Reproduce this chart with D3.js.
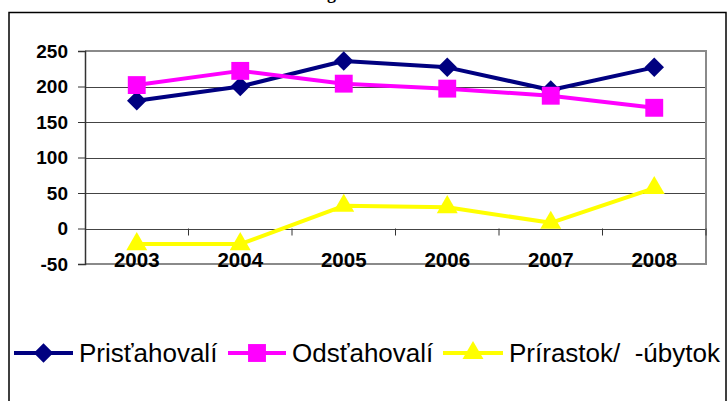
<!DOCTYPE html>
<html>
<head>
<meta charset="utf-8">
<script src="https://cdn.jsdelivr.net/npm/d3@7"></script>
<style>
  body { margin: 0; background: #fff; }
  svg { display: block; }
</style>
</head>
<body>
<svg id="chart" width="727" height="401"></svg>
<script>
var years = ['2003', '2004', '2005', '2006', '2007', '2008'];
var prist = [180, 200, 236, 227, 195, 227];
var odst = [202, 222, 204, 197, 187, 170];
var prir = [-22, -22, 32, 30, 8, 57];
var yTicks = [-50, 0, 50, 100, 150, 200, 250];
var names = ['Prisťahovalí', 'Odsťahovalí', 'Prírastok/  -úbytok'];

var series = [
	{ name: names[0], values: prist, color: '#000080', shape: 'diamond' },
	{ name: names[1], values: odst, color: '#ff00ff', shape: 'square' },
	{ name: names[2], values: prir, color: '#ffff00', shape: 'triangle' }
];

var svg = d3.select('#chart');
var plotLeft = 85, plotRight = 706, plotTop = 51, plotBottom = 264;

var x = d3.scaleBand().domain(years).range([plotLeft, plotRight]);
var y = d3.scaleLinear().domain([-50, 250]).range([plotBottom, plotTop]);

// title (cut off at top)
svg.append('text').attr('x', 305).attr('y', -1)
	.attr('font-family', 'Liberation Serif, Times New Roman, serif')
	.attr('font-weight', 'bold').attr('font-size', 18)
	.text('Migrácia');

// outer frame
svg.append('rect').attr('x', 9).attr('y', 12.5).attr('width', 717).attr('height', 400)
	.attr('fill', 'none').attr('stroke', '#000').attr('stroke-width', 1.5);

// gridlines
svg.append('g').selectAll('line').data(yTicks.filter(function(d) { return d > -50 && d < 250; }))
	.enter().append('line')
	.attr('x1', plotLeft).attr('x2', plotRight)
	.attr('y1', function(d) { return Math.round(y(d)) + 0.5; })
	.attr('y2', function(d) { return Math.round(y(d)) + 0.5; })
	.attr('stroke', '#444').attr('stroke-width', 1);

// plot border (top, right, bottom)
svg.append('path')
	.attr('d', 'M' + plotLeft + ',' + y(250) + 'H' + plotRight + 'V' + y(-50) + 'H' + plotLeft)
	.attr('fill', 'none').attr('stroke', '#8a8a8a').attr('stroke-width', 2);

// y axis
var yAxis = d3.axisLeft(y).tickValues(yTicks).tickSize(7).tickPadding(10)
	.tickFormat(function(d) { return d + ''; });
var gy = svg.append('g').attr('transform', 'translate(' + plotLeft + ',0)').call(yAxis);
gy.select('.domain').attr('stroke', '#333').attr('stroke-width', 1.5);
gy.selectAll('.tick line').attr('stroke', '#333');
gy.selectAll('.tick text')
	.attr('font-family', 'Liberation Sans, Arial, sans-serif')
	.attr('font-weight', 'bold').attr('font-size', 19).attr('fill', '#000');

// x axis on zero line, ticks at category boundaries
var bounds = years.slice(1).map(function(d) { return x(d); }).concat([plotRight]);
svg.append('g').selectAll('line').data(bounds).enter().append('line')
	.attr('x1', function(d) { return d; }).attr('x2', function(d) { return d; })
	.attr('y1', y(0)).attr('y2', y(0) + 7)
	.attr('stroke', '#333').attr('stroke-width', 1);

// series
var line = d3.line()
	.x(function(d, i) { return x(years[i]) + x.bandwidth() / 2; })
	.y(function(d) { return y(d); });

function symbolFor(shape) {
	if (shape === 'diamond') return d3.symbol().type(d3.symbolSquare).size(190)();
	if (shape === 'square') return d3.symbol().type(d3.symbolSquare).size(320)();
	return d3.symbol().type(d3.symbolTriangle).size(190)();
}
function markerTransform(shape, cx, cy) {
	return 'translate(' + cx + ',' + cy + ')' + (shape === 'diamond' ? ' rotate(45)' : '');
}

series.forEach(function(s) {
	var g = svg.append('g');
	g.append('path').datum(s.values).attr('d', line)
		.attr('fill', 'none').attr('stroke', s.color).attr('stroke-width', 4)
		.attr('stroke-linejoin', 'round');
	g.selectAll('path.m').data(s.values).enter().append('path').attr('class', 'm')
		.attr('d', symbolFor(s.shape))
		.attr('transform', function(d, i) {
			return markerTransform(s.shape, x(years[i]) + x.bandwidth() / 2, y(d));
		})
		.attr('fill', s.color);
});

// x labels
svg.append('g').selectAll('text').data(years).enter().append('text')
	.attr('x', function(d) { return x(d) + x.bandwidth() / 2; })
	.attr('y', 267)
	.attr('text-anchor', 'middle')
	.attr('font-family', 'Liberation Sans, Arial, sans-serif')
	.attr('font-weight', 'bold').attr('font-size', 20.5)
	.text(function(d) { return d; });

// legend
var legendPos = [{ x1: 14, x2: 73, tx: 79 }, { x1: 228, x2: 286, tx: 292 }, { x1: 443, x2: 503, tx: 509 }];
var ly = 353;
series.forEach(function(s, i) {
	var p = legendPos[i];
	var g = svg.append('g');
	g.append('line').attr('x1', p.x1).attr('x2', p.x2).attr('y1', ly).attr('y2', ly)
		.attr('stroke', s.color).attr('stroke-width', 4);
	g.append('path').attr('d', symbolFor(s.shape))
		.attr('transform', markerTransform(s.shape, (p.x1 + p.x2) / 2, ly))
		.attr('fill', s.color);
	g.append('text').attr('x', p.tx).attr('y', ly + 9)
		.attr('font-family', 'Liberation Sans, Arial, sans-serif')
		.attr('font-size', 26).attr('fill', '#000')
		.attr('xml:space', 'preserve').style('white-space', 'pre')
		.text(s.name);
});
</script>
</body>
</html>
